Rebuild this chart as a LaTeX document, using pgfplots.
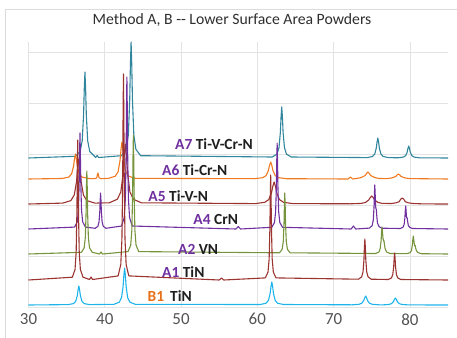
\documentclass[border=0pt]{standalone}
\usepackage{fontspec}
\setmainfont{Carlito}
\usepackage{pgfplots}
\pgfplotsset{compat=1.18}

% series colours
\definecolor{cB1}{RGB}{30,180,235}
\definecolor{cTiN}{RGB}{155,52,48}
\definecolor{cVN}{RGB}{118,148,60}
\definecolor{cCrN}{RGB}{112,48,160}
\definecolor{cTiCrN}{RGB}{240,122,32}
\definecolor{cTiVCrN}{RGB}{49,133,156}
\definecolor{labA}{RGB}{112,48,160}
\definecolor{labB}{RGB}{232,112,24}

\begin{document}
\begin{tikzpicture}[x=1bp,y=1bp]
\path[use as bounding box] (-28.5,-30) rectangle (428.5,307);
\draw[black!14, line width=0.8bp] (-23.5,-45) rectangle (445,298);
\begin{axis}[
  at={(0,0)}, anchor=south west,
  scale only axis, width=419.5bp, height=265bp,
  xmin=30, xmax=85, ymin=0, ymax=265,
  xtick={30,40,50,60,70,80},
  ytick={0,51,102,153,204,255}, yticklabels={},
  grid=major, major grid style={draw=black!11, line width=0.6bp},
  axis line style={draw=none}, tick style={draw=none},
  /pgf/number format/assume math mode=true,
  xticklabel style={font=\fontsize{17}{17}\selectfont, text=black!68, yshift=-3bp},
  title={Method A, B {-}{-} Lower Surface Area Powders},
  title style={at={(axis description cs:0.485,1)}, anchor=base, yshift=12bp,
               font=\fontsize{15.8}{18}\selectfont, text=black!82},
  every axis plot/.append style={line width=1.1bp, line join=round},
  clip=true,
]
% A7 Ti-V-Cr-N
\addplot[cTiVCrN] coordinates {
(30,149) (36.14,150.7) (36.77,155.5) (37.04,166.2) (37.22,192) (37.31,217.8) (37.4,235)
(37.49,217.8) (37.58,192) (37.76,166.2) (38.03,155.5) (38.66,150.7)
(38.8,149.5) (39.0,151.5) (39.2,149.5)
(42.19,151.3) (42.82,157.7) (43.09,172.2) (43.27,207) (43.36,241.8) (43.45,265)
(43.54,241.8) (43.63,207) (43.81,172.2) (44.08,157.7) (44.71,151.3)
(61.94,150) (62.57,152.8) (62.84,159.2) (63.02,174.5) (63.11,189.8) (63.2,200)
(63.29,189.8) (63.38,174.5) (63.56,159.2) (63.83,152.8) (64.46,150)
(74.4,149.4) (75.1,150.5) (75.4,153) (75.6,159) (75.7,165) (75.8,169)
(75.9,165) (76.0,159) (76.2,153) (76.5,150.5) (77.2,149.4)
(78.45,149.2) (79.15,149.9) (79.45,151.4) (79.65,155) (79.75,158.6) (79.85,161)
(79.95,158.6) (80.05,155) (80.25,151.4) (80.55,149.9) (81.25,149.2) (85,149)
};
% A6 Ti-Cr-N
\addplot[cTiCrN] coordinates {
(30,128) (34.4,128.5) (35.28,129.9) (35.65,133) (35.9,140.5) (36.03,148) (36.15,153)
(36.28,148) (36.4,140.5) (36.65,133) (37.03,129.9) (37.9,128.5)
(38.7,128.3) (38.95,129.2) (39.05,132.8) (39.1,134) (39.15,132.8) (39.25,129.2) (39.5,128.3)
(40.5,128.7) (41.38,130.8) (41.75,135.4) (42.0,146.5) (42.13,157.6) (42.25,165)
(42.38,157.6) (42.5,146.5) (42.75,135.4) (43.13,130.8) (44.0,128.7)
(59.65,128.3) (60.7,129.3) (61.15,131.4) (61.45,136.5) (61.6,141.6) (61.75,145)
(61.9,141.6) (62.05,136.5) (62.35,131.4) (62.8,129.3) (63.85,128.3)
(71.9,128) (72.2,130) (72.5,128)
(73.0,128.5) (73.6,129.4) (74.15,131.5) (74.33,133.6) (74.5,135)
(74.68,133.6) (74.85,131.5) (75.4,129.4) (76.0,128.5)
(77.0,128.4) (77.6,129) (78.15,130.5) (78.33,132) (78.5,133)
(78.68,132) (78.85,130.5) (79.4,129) (80.0,128.4) (85,128)
};
% A5 Ti-V-N
\addplot[cTiN] coordinates {
(30,103) (34.5,103.9) (35.55,106.4) (36.0,112) (36.3,125.5) (36.45,139) (36.6,148)
(36.75,139) (36.9,125.5) (37.2,112) (37.65,106.4) (38.7,103.9)
(40.6,104.2) (41.65,107.8) (42.1,115) (42.4,133) (42.55,151) (42.7,163)
(42.85,151) (43.0,133) (43.3,115) (43.75,107.8) (44.8,104.2)
(59.75,103.4) (60.98,104.7) (61.5,107.4) (61.85,114) (62.03,120.6) (62.2,125)
(62.38,120.6) (62.55,114) (62.9,107.4) (63.43,104.7) (64.65,103.4)
(72.2,103.2) (73.6,103.6) (74.2,104.6) (74.6,107) (74.8,109.4) (75.0,111)
(75.2,109.4) (75.4,107) (75.8,104.6) (76.4,103.6) (77.6,103.5)
(78.2,104.2) (78.6,105.3) (78.8,107.8) (79.0,109) (79.2,107.8) (79.4,105.3)
(79.8,104.2) (80.4,103.5) (81.8,103.1) (85,103)
};
% A4 CrN
\addplot[cCrN] coordinates {
(30,78) (36.05,79.9) (36.4,85.2) (36.55,97.2) (36.65,126) (36.7,154.8) (36.75,174)
(36.8,154.8) (36.85,126) (36.95,97.2) (37.1,85.2) (37.45,79.9)
(38.75,78.7) (39.1,80.7) (39.25,85.2) (39.35,96) (39.4,106.8) (39.45,114)
(39.5,106.8) (39.55,96) (39.65,85.2) (39.8,80.7) (40.15,78.7)
(42.2,81) (42.55,89.4) (42.7,108.4) (42.8,154) (42.85,199.6) (42.9,230)
(42.95,199.6) (43.0,154) (43.1,108.4) (43.25,89.4) (43.6,81)
(57.2,78) (57.5,80.5) (57.8,78)
(61.9,79.7) (62.25,84.5) (62.4,95.2) (62.5,121) (62.55,146.8) (62.6,164)
(62.65,146.8) (62.7,121) (62.8,95.2) (62.95,84.5) (63.3,79.7)
(72.3,78) (72.6,81) (72.9,78)
(74.7,78.9) (75.05,81.3) (75.2,86.8) (75.3,100) (75.35,113.2) (75.4,122)
(75.45,113) (75.5,102) (75.55,98) (75.6,98) (75.65,92) (75.75,84) (75.95,80.5) (76.3,78.8)
(78.75,78.5) (79.1,79.8) (79.25,82.6) (79.35,89.5) (79.4,96.4) (79.45,101)
(79.5,96.5) (79.55,91) (79.6,89) (79.65,89) (79.7,86) (79.8,81.5) (80.0,79.5) (80.35,78.5) (85,78)
};
% A2 VN
\addplot[cVN] coordinates {
(30,53) (36.95,54.7) (37.3,59.2) (37.45,69.6) (37.55,94.5) (37.6,119.4) (37.65,136)
(37.7,119.4) (37.75,94.5) (37.85,69.6) (38.0,59.2) (38.35,54.7)
(39.3,53) (39.5,55) (39.7,53)
(43.05,55.4) (43.4,61.9) (43.55,76.8) (43.65,112.5) (43.7,148.2) (43.75,172)
(43.8,148.2) (43.85,112.5) (43.95,76.8) (44.1,61.9) (44.45,55.4)
(62.9,54.2) (63.25,57.6) (63.4,65.2) (63.5,83.5) (63.55,101.8) (63.6,114)
(63.65,101.8) (63.7,83.5) (63.8,65.2) (63.95,57.6) (64.3,54.2)
(75.5,53.5) (75.95,55) (76.11,58.4) (76.23,66.5) (76.29,74.6) (76.35,80)
(76.41,75) (76.47,69) (76.55,66) (76.6,66.5) (76.66,63) (76.75,58.5) (76.95,55) (77.4,53.5)
(79.6,53.4) (80.05,54.4) (80.21,56.6) (80.33,62) (80.39,67.4) (80.45,71)
(80.51,67.5) (80.57,63.5) (80.65,61) (80.7,61.5) (80.76,59) (80.85,56.5) (81.05,54.5) (81.5,53.3) (85,53)
};
% A1 TiN
\addplot[cTiN] coordinates {
(30,27) (35.75,29.8) (36.1,37.5) (36.25,55) (36.35,97) (36.4,139) (36.45,167)
(36.5,139) (36.55,97) (36.65,55) (36.8,37.5) (37.15,29.8)
(38.0,27.5) (38.2,30) (38.4,27.5)
(41.75,31.1) (42.1,42.5) (42.25,68.2) (42.35,130) (42.4,191.8) (42.45,233)
(42.5,191.8) (42.55,130) (42.65,68.2) (42.8,42.5) (43.15,31.1)
(55.0,27) (55.3,29) (55.6,27)
(61.05,29.1) (61.4,34.9) (61.55,48) (61.65,79.5) (61.7,111) (61.75,132)
(61.8,111) (61.85,79.5) (61.95,48) (62.1,34.9) (62.45,29.1)
(73.26,27.8) (73.68,30.1) (73.86,35.2) (73.98,47.5) (74.04,59.8) (74.1,68)
(74.16,59.8) (74.22,47.5) (74.34,35.2) (74.52,30.1) (74.94,27.8)
(77.16,27.5) (77.58,29) (77.76,32.4) (77.88,40.5) (77.94,48.6) (78.0,54)
(78.06,48.6) (78.12,40.5) (78.24,32.4) (78.42,29) (78.84,27.5) (85,27)
};
% B1 TiN
\addplot[cB1] coordinates {
(30,2) (35.2,2.4) (35.9,3.4) (36.2,5.8) (36.4,11.5) (36.5,17.2) (36.6,21)
(36.7,17.2) (36.8,11.5) (37.0,5.8) (37.3,3.4) (38.0,2.4)
(41.2,2.7) (41.9,4.8) (42.2,9.4) (42.4,20.5) (42.5,31.6) (42.6,39)
(42.7,31.6) (42.8,20.5) (43.0,9.4) (43.3,4.8) (44.0,2.7)
(60.36,2.5) (61.13,3.7) (61.46,6.6) (61.68,13.5) (61.79,20.4) (61.9,25)
(62.01,20.4) (62.12,13.5) (62.34,6.6) (62.67,3.7) (63.44,2.5)
(72.45,2.2) (73.33,2.7) (73.7,3.8) (73.95,6.5) (74.08,9.2) (74.2,11)
(74.33,9.2) (74.45,6.5) (74.7,3.8) (75.08,2.7) (75.95,2.2)
(76.35,2.1) (77.23,2.5) (77.6,3.4) (77.85,5.5) (77.98,7.6) (78.1,9)
(78.23,7.6) (78.35,5.5) (78.6,3.4) (78.98,2.5) (79.85,2.1) (85,2)
};
% sample labels
\begin{scope}[every node/.style={anchor=base west, inner sep=0pt,
    font=\fontsize{15.5}{18}\selectfont\bfseries, text=black!88}]
\node at (axis cs:49.2,157.7) {\textcolor{labA}{A7} Ti-V-Cr-N};
\node at (axis cs:47.5,132) {\textcolor{labA}{A6} Ti-Cr-N};
\node at (axis cs:45.7,105.3) {\textcolor{labA}{A5} Ti-V-N};
\node at (axis cs:51.6,83) {\textcolor{labA}{A4} CrN};
\node at (axis cs:49.6,53) {\textcolor{labA}{A2} VN};
\node at (axis cs:47.5,30) {\textcolor{labA}{A1} TiN};
\node at (axis cs:45.6,5.3) {\textcolor{labB}{B1}\hspace{6bp}TiN};
\end{scope}
\end{axis}
\end{tikzpicture}
\end{document}
